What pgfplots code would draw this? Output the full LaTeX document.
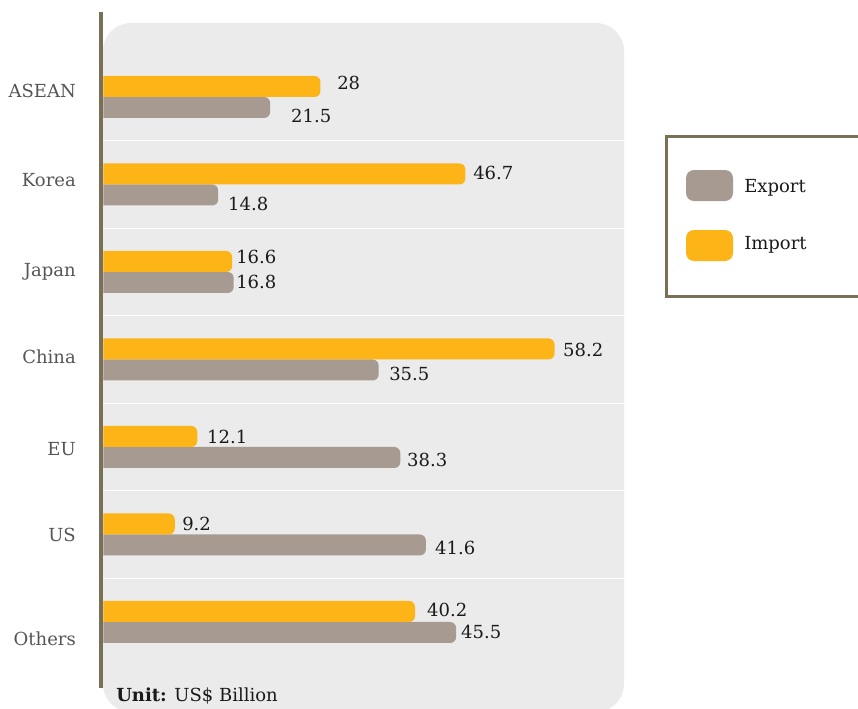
\documentclass[border=0pt]{standalone}
\usepackage{fontspec}
\setmainfont{DejaVu Serif}
\usepackage{pgfplots}
\pgfplotsset{compat=1.18}
\definecolor{bgcol}{HTML}{EBEBEB}
\definecolor{impcol}{HTML}{FDB416}
\definecolor{expcol}{HTML}{A79B91}
\definecolor{axcol}{HTML}{7A7058}
\definecolor{catcol}{HTML}{555555}
\definecolor{numcol}{HTML}{1A1A1A}
\begin{document}
\begin{tikzpicture}[font=\fontsize{13.5}{16}\selectfont]
\useasboundingbox (0pt,0pt) rectangle (643.5pt,-531pt);
\clip (0pt,0pt) rectangle (643.5pt,-531pt);
\begin{scope}[x=0.75pt,y=-0.75pt]
\fill[bgcol, rounded corners=21pt] (103,23) rectangle (624,712);
\end{scope}
\begin{axis}[
  at={(77.625pt,-531pt)}, anchor=south west,
  scale only axis, width=390.75pt, height=514.5pt,
  xmin=0, xmax=67.23, ymin=-0.983, ymax=6.857,
  axis line style={draw=none},
  xtick=\empty,
  ytick={-0.194,1.0,1.977,3.029,4.023,5.051,6.069},
  yticklabels={Others,US,EU,China,Japan,Korea,ASEAN},
  yticklabel style={anchor=base east, inner sep=0pt, xshift=-20.6pt, yshift=-4.9pt, text=catcol},
  major tick length=0pt, minor tick length=0pt,
  tick style={draw=none},
  minor ytick={0.5,1.5,2.5,3.5,4.5,5.5},
  yminorgrids=true,
  minor grid style={draw=white, line width=1.1pt},
]
% Export bars
\addplot[draw=none, fill=expcol, mark=none, rounded corners=4.5pt] coordinates {
(-1,6) (21.5,6) (21.5,5.76) (-1,5.76)
(-1,5) (14.8,5) (14.8,4.76) (-1,4.76)
(-1,4) (16.8,4) (16.8,3.76) (-1,3.76)
(-1,3) (35.5,3) (35.5,2.76) (-1,2.76)
(-1,2) (38.3,2) (38.3,1.76) (-1,1.76)
(-1,1) (41.6,1) (41.6,0.76) (-1,0.76)
(-1,0) (45.5,0) (45.5,-0.24) (-1,-0.24)
};
% Import bars
\addplot[draw=none, fill=impcol, mark=none, rounded corners=4.5pt] coordinates {
(-1,6.24) (28,6.24) (28,6) (-1,6)
(-1,5.24) (46.7,5.24) (46.7,5) (-1,5)
(-1,4.24) (16.6,4.24) (16.6,4) (-1,4)
(-1,3.24) (58.2,3.24) (58.2,3) (-1,3)
(-1,2.24) (12.1,2.24) (12.1,2) (-1,2)
(-1,1.24) (9.2,1.24) (9.2,1) (-1,1)
(-1,0.24) (40.2,0.24) (40.2,0) (-1,0)
};
% value labels
\addplot[draw=none, mark=none, nodes near coords, point meta=explicit symbolic,
  nodes near coords style={anchor=base west, inner sep=0pt, yshift=-4.9pt, text=numcol}]
coordinates {
(30.13,6.16)[28] (24.19,5.783)[21.5]
(47.68,5.137)[46.7] (16.06,4.783)[14.8]
(17.10,4.171)[16.6] (17.10,3.886)[16.8]
(59.29,3.114)[58.2] (36.84,2.837)[35.5]
(13.35,2.114)[12.1] (39.16,1.851)[38.3]
(10.13,1.126)[9.2] (42.77,0.851)[41.6]
(41.74,0.137)[40.2] (46.13,-0.114)[45.5]
};
\end{axis}
\begin{scope}[x=0.75pt,y=-0.75pt]
\draw[axcol, line width=2.6pt] (100.8,12) -- (100.8,688);
\node[anchor=base west, inner sep=0pt, text=numcol] at (116,701.5) {\textbf{Unit:} US\$ Billion};
% legend
\draw[axcol, line width=2.25pt] (666.5,136.5) rectangle (880,296.5);
\fill[expcol, rounded corners=6pt] (686,170) rectangle (733,201);
\fill[impcol, rounded corners=6pt] (686,230) rectangle (733,261);
\node[anchor=base west, inner sep=0pt, text=numcol] at (744,192.6) {Export};
\node[anchor=base west, inner sep=0pt, text=numcol] at (744,249.6) {Import};
\end{scope}
\end{tikzpicture}
\end{document}
